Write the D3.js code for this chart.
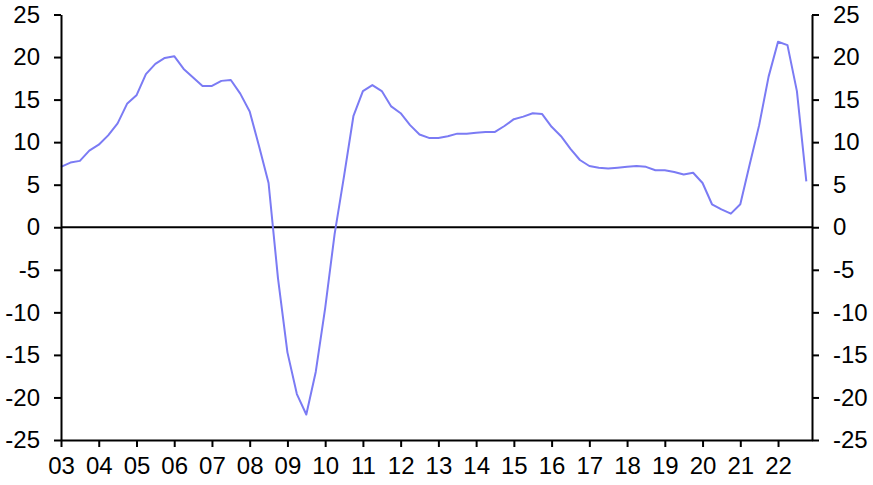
<!DOCTYPE html>
<html>
<head>
<meta charset="utf-8">
<script src="https://cdn.jsdelivr.net/npm/d3@7"></script>
<style>
  html, body { margin: 0; padding: 0; background: #fff; }
  svg { display: block; }
  .axis text { font-family: "Liberation Sans", Arial, sans-serif; font-size: 24px; fill: #000; }
  .axis path, .axis line { stroke: #000; stroke-width: 2; }
</style>
</head>
<body>
<svg id="chart" width="873" height="485"></svg>
<script>
// ---- Data (quarterly, starting 2003 Q1) ----
const startYear = 2003;
const values = [
  7.1, 7.6, 7.8, 9.0, 9.7, 10.8, 12.2, 14.5, 15.5, 18.0,
  19.2, 19.9, 20.1, 18.6, 17.6, 16.6, 16.6, 17.2, 17.3, 15.7,
  13.6, 9.5, 5.2, -6.0, -14.7, -19.6, -22.0, -17.0, -9.5, -0.8,
  6.0, 13.1, 16.0, 16.7, 16.0, 14.2, 13.4, 12.0, 10.9, 10.5,
  10.5, 10.7, 11.0, 11.0, 11.1, 11.2, 11.2, 11.9, 12.7, 13.0,
  13.4, 13.3, 11.8, 10.7, 9.2, 7.9, 7.2, 7.0, 6.9, 7.0,
  7.1, 7.2, 7.1, 6.7, 6.7, 6.5, 6.2, 6.4, 5.2, 2.7,
  2.1, 1.6, 2.7, 7.4, 12.0, 17.7, 21.8, 21.4, 16.0, 5.4
];
const tickYears = [2003, 2004, 2005, 2006, 2007, 2008, 2009, 2010, 2011, 2012,
                   2013, 2014, 2015, 2016, 2017, 2018, 2019, 2020, 2021, 2022];
const tickLabels = ["03", "04", "05", "06", "07", "08", "09", "10", "11", "12",
                    "13", "14", "15", "16", "17", "18", "19", "20", "21", "22"];
const yTicks = [-25, -20, -15, -10, -5, 0, 5, 10, 15, 20, 25];

// ---- Layout ----
const svg = d3.select("#chart");
const mLeft = 61, mRight = 812, mTop = 14.5, mBottom = 440;

const x = d3.scaleLinear().domain([2003, 2022.9]).range([mLeft, mRight]);
const y = d3.scaleLinear().domain([-25, 25]).range([mBottom, mTop]);

const points = values.map((v, i) => ({ t: startYear + i / 4, v }));

// zero line
svg.append("line")
  .attr("x1", mLeft).attr("x2", mRight)
  .attr("y1", y(0)).attr("y2", y(0))
  .attr("stroke", "#000").attr("stroke-width", 2);

// data line
svg.append("path")
  .datum(points)
  .attr("fill", "none")
  .attr("stroke", "#7b7bf4")
  .attr("stroke-width", 2)
  .attr("stroke-linejoin", "round")
  .attr("d", d3.line().x(d => x(d.t)).y(d => y(d.v)));

// axes
const labelMap = new Map(tickYears.map((t, i) => [t, tickLabels[i]]));
const yFmt = d => String(d); // plain hyphen-minus, as in the reference

svg.append("g").attr("class", "axis")
  .attr("transform", `translate(0,${mBottom})`)
  .call(d3.axisBottom(x).tickValues(tickYears).tickFormat(d => labelMap.get(d))
        .tickSize(7).tickSizeOuter(0).tickPadding(10));

svg.append("g").attr("class", "axis")
  .attr("transform", `translate(${mLeft},0)`)
  .call(d3.axisLeft(y).tickValues(yTicks).tickFormat(yFmt)
        .tickSize(7).tickSizeOuter(0).tickPadding(14));

svg.append("g").attr("class", "axis")
  .attr("transform", `translate(${mRight},0)`)
  .call(d3.axisRight(y).tickValues(yTicks).tickFormat(yFmt)
        .tickSize(7).tickSizeOuter(0).tickPadding(14));
</script>
</body>
</html>
